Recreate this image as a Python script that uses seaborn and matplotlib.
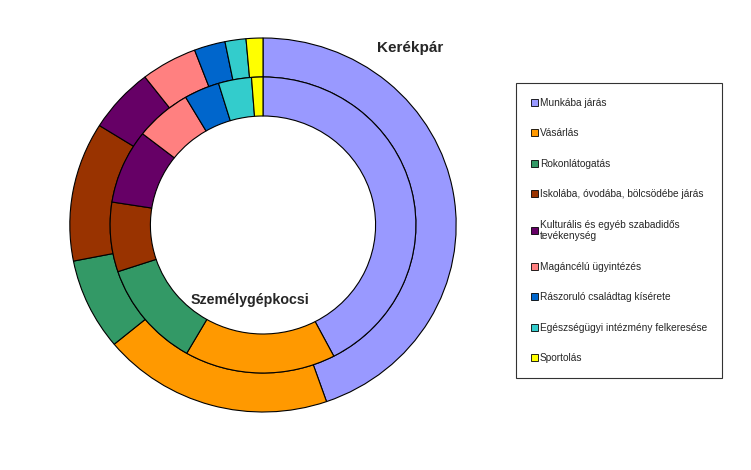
import matplotlib
matplotlib.use("Agg")
import matplotlib.pyplot as plt
from matplotlib.patches import Patch
import seaborn as sns

categories = ["Munkába járás", "Vásárlás", "Rokonlátogatás",
              "Iskolába, óvodába, bölcsödébe járás",
              "Kulturális és egyéb szabadidős\ntevékenység",
              "Magáncélú ügyintézés", "Rászoruló családtag kísérete",
              "Egészségügyi intézmény felkeresése", "Sportolás"]
kerekpar = [44.6, 19.3, 7.9, 12.0, 5.6, 4.7, 2.6, 1.75, 1.4]
szemelygepkocsi = [42.4, 16.0, 11.6, 7.6, 8.1, 6.0, 3.75, 3.5, 1.2]
colors = ["#9999FF", "#FF9900", "#339966", "#993300", "#660066",
          "#FF8080", "#0066CC", "#33CCCC", "#FFFF00"]

sns.set_theme(style="white")
plt.rcParams['font.family'] = ['Liberation Sans', 'DejaVu Sans']
palette = sns.color_palette(colors)

W, H = 751, 470
fig = plt.figure(figsize=(W / 100, H / 100), dpi=100)
cx, cy, half = 263, 225, 200
sx = 1.033  # slight horizontal stretch like the original
ax = fig.add_axes([(cx - half * sx) / W, (H - cy - half) / H,
                   2 * half * sx / W, 2 * half / H])

wp = dict(edgecolor="black", linewidth=0.8)
ax.pie(kerekpar, radius=187, colors=palette, startangle=90, counterclock=False,
       wedgeprops=dict(width=39, **wp), frame=True)
ax.pie(szemelygepkocsi, radius=148, colors=palette, startangle=90, counterclock=False,
       wedgeprops=dict(width=39, **wp), frame=True)
ax.set_aspect("auto")
ax.set_xlim(-half, half)
ax.set_ylim(-half, half)
ax.axis("off")

fig.text(410 / W, 1 - 48 / H, "Kerékpár", ha="center", va="center",
         fontsize=11, fontweight="bold")
fig.text(250 / W, 1 - 300 / H, "Személygépkocsi", ha="center", va="center",
         fontsize=10.3, fontweight="bold")

handles = [Patch(facecolor=c, edgecolor="black", linewidth=0.6) for c in palette]
leg = fig.legend(handles, categories, loc="upper left",
                 bbox_to_anchor=(516 / W, 1 - 83 / H), fontsize=7.3,
                 frameon=True, fancybox=False, edgecolor="black",
                 handlelength=0.72, handleheight=0.72, handletextpad=0.2,
                 labelspacing=2.02, borderpad=1.45, borderaxespad=0)
leg.get_frame().set_linewidth(0.8)

fig.savefig("out.png", dpi=100)
